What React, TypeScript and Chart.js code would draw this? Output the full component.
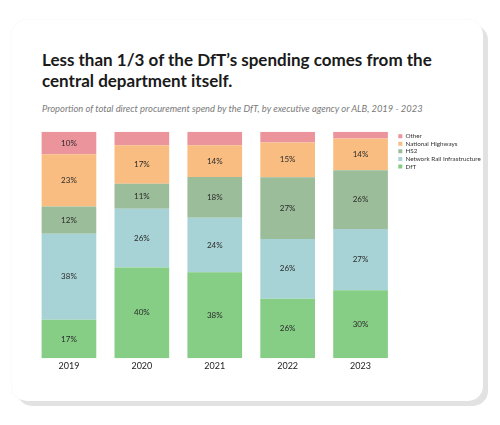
import React, { useEffect, useRef } from "react";
import { Chart, registerables } from "chart.js";

Chart.register(...registerables);

const years = ["2019", "2020", "2021", "2022", "2023"];
const seriesNames = ["DfT", "Network Rail Infrastructure", "HS2", "National Highways", "Other"];
const dft = [17, 40, 38, 26.3, 30];
const networkRail = [38, 26, 24, 26.3, 27];
const hs2 = [12, 11, 18, 27.3, 26];
const nationalHighways = [23, 17, 14, 15.3, 14];
const other = [10, 6, 6, 4.8, 3];
const seriesColors = ["#86cd86", "#a8d3d6", "#9cbd99", "#f9bd82", "#ec949c"];

const LEGEND_FONT = 6.3;
const LEGEND_PAD = 1.3;
const LEGEND_BOX = 4;

const labelPlugin = {
  id: "segmentLabels",
  afterDatasetsDraw(chart: any) {
    const ctx = chart.ctx;
    ctx.save();
    ctx.font = "8px Lato";
    ctx.fillStyle = "#2a2a2a";
    ctx.textAlign = "center";
    ctx.textBaseline = "middle";
    chart.data.datasets.forEach((ds: any, di: number) => {
      const meta = chart.getDatasetMeta(di);
      meta.data.forEach((el: any, i: number) => {
        const v = ds.data[i];
        if (v < 9) return;
        const cx = el.x;
        const cy = (el.y + el.base) / 2;
        ctx.fillText(Math.round(v) + "%", cx, cy);
      });
    });
    ctx.restore();
  },
};

export default function App() {
  const ref = useRef<HTMLCanvasElement>(null);
  useEffect(() => {
    if (!ref.current) return;
    Chart.defaults.font.family = "Lato";
    const values = [dft, networkRail, hs2, nationalHighways, other];
    // legend width so that the plot area ends at x = 397 (page), canvas spans 30..500
    const mctx = ref.current.getContext("2d")!;
    mctx.font = `${LEGEND_FONT}px Lato`;
    const maxText = Math.max(...seriesNames.map((n) => mctx.measureText(n).width));
    const legendWidth = LEGEND_PAD + LEGEND_BOX + LEGEND_FONT / 2 + maxText + 10;
    const rightPad = Math.max(0, 500 - 397 - legendWidth);
    const chart = new Chart(ref.current, {
      type: "bar",
      data: {
        labels: years,
        datasets: seriesNames.map((name, i) => ({
          label: name,
          data: values[i],
          backgroundColor: seriesColors[i],
          borderWidth: 0,
          barPercentage: 0.75,
          categoryPercentage: 1,
        })),
      },
      options: {
        animation: false,
        responsive: false,
        maintainAspectRatio: false,
        layout: { padding: { top: 6.7, left: 2.5, bottom: 2, right: rightPad } },
        scales: {
          x: {
            stacked: true,
            grid: { display: false, drawTicks: false },
            border: { display: false },
            ticks: { color: "#222222", font: { size: 9 }, padding: 2 },
          },
          y: { stacked: true, display: false, min: 0, max: 100 },
        },
        plugins: {
          legend: {
            position: "right",
            align: "start",
            reverse: true,
            labels: {
              boxWidth: LEGEND_BOX,
              boxHeight: LEGEND_BOX,
              padding: LEGEND_PAD,
              color: "#333333",
              font: { size: LEGEND_FONT },
            },
          },
          tooltip: { enabled: false },
        },
      },
      plugins: [labelPlugin],
    });
    return () => chart.destroy();
  }, []);

  return (
    <div style={{ position: "fixed", left: 0, top: 0, width: 500, height: 425, background: "#ffffff", fontFamily: "Lato" }}>
      <div
        style={{
          position: "absolute",
          left: 12,
          top: 20,
          width: 471,
          height: 381,
          borderRadius: 15,
          background: "#ffffff",
          boxShadow: "5px 5px 0 #e2e2e2, 0 0 3px rgba(0,0,0,0.05)",
        }}
      />
      <div
        style={{
          position: "absolute",
          left: 42,
          top: 49,
          width: 430,
          fontSize: 17,
          lineHeight: "21px",
          fontWeight: 700,
          color: "#1a1a1a",
        }}
      >
        Less than 1/3 of the DfT’s spending comes from the central department itself.
      </div>
      <div
        style={{
          position: "absolute",
          left: 42,
          top: 103,
          fontSize: 9.4,
          lineHeight: "12px",
          fontStyle: "italic",
          color: "#7a7a7a",
          whiteSpace: "nowrap",
        }}
      >
        Proportion of total direct procurement spend by the DfT, by executive agency or ALB, 2019 - 2023
      </div>
      <canvas
        ref={ref}
        width={470}
        height={250}
        style={{ position: "absolute", left: 30, top: 125, width: 470, height: 250 }}
      />
    </div>
  );
}
